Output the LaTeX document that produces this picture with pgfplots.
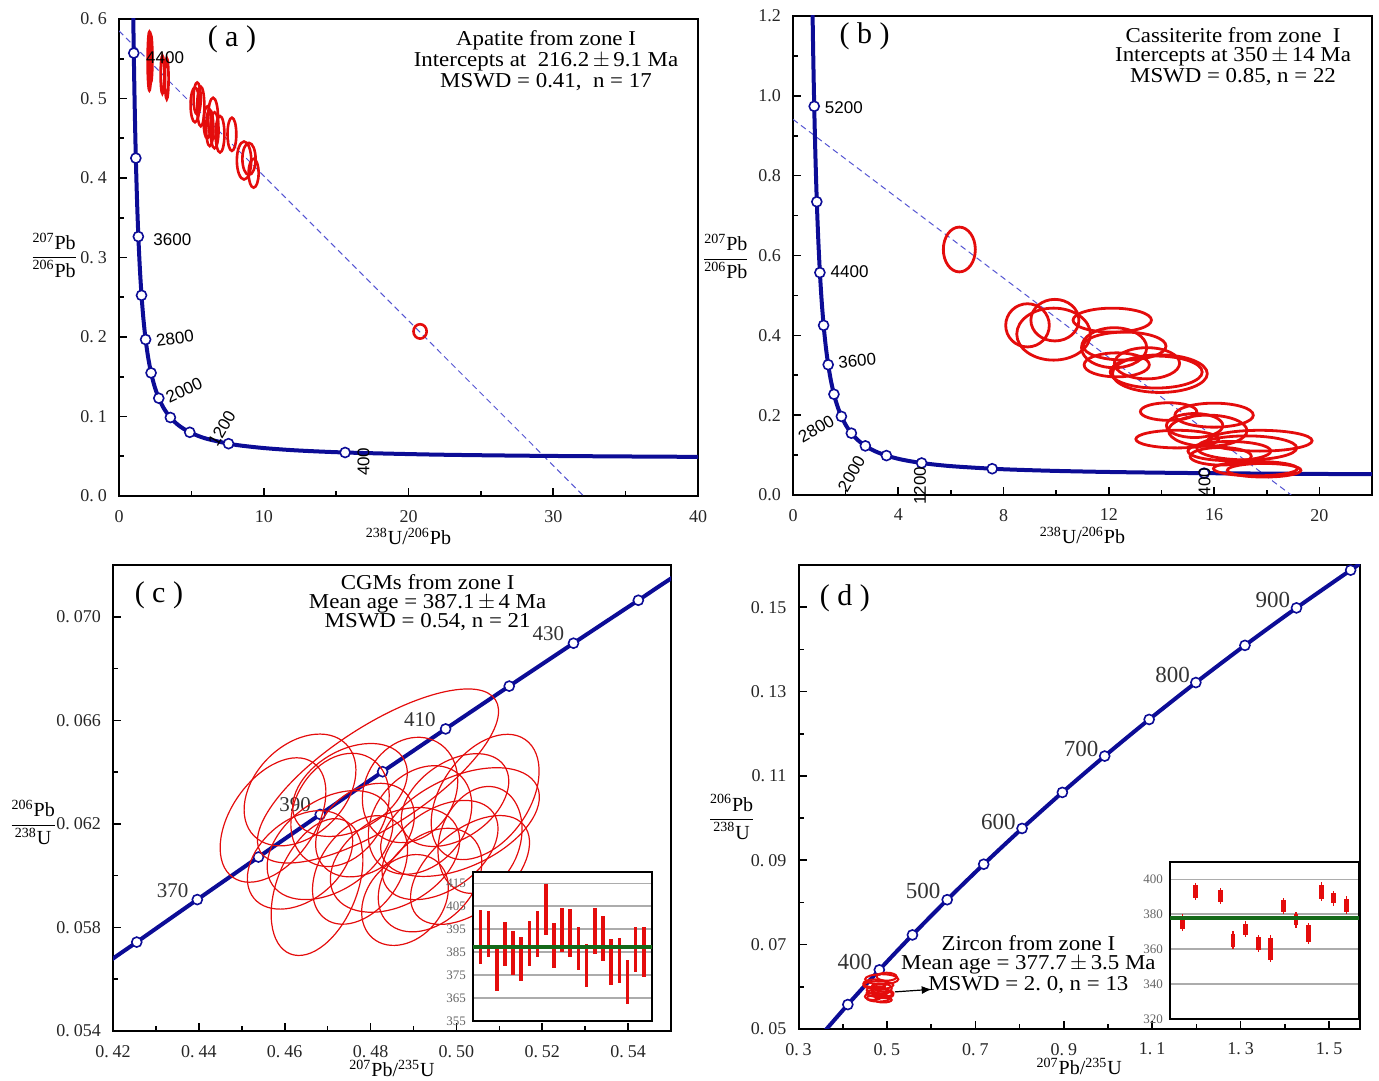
\documentclass[border=0pt]{standalone}
\usepackage{pgfplots}
\pgfplotsset{compat=1.18}
\usepackage{pgfplotstable}
\usepackage{amsmath}
\usepackage{fontspec}
\setmainfont{Liberation Serif}
\newfontfamily\arialf{Liberation Sans}
\newfontfamily\ttlf{Liberation Serif}[FakeStretch=1.08]
\usetikzlibrary{arrows.meta}

\definecolor{conc}{RGB}{12,12,150}
\definecolor{ered}{RGB}{228,12,12}
\definecolor{dgreen}{RGB}{20,105,25}
\definecolor{disc}{RGB}{85,85,210}
\def\dsp{\kern0.22em}
\newcommand{\tlines}[5]{\vbox{\baselineskip=#1\lineskiplimit=-\maxdimen\lineskip=0pt\halign{\hfil##\hfil\cr#2\cr#3\cr\noalign{\vskip#5}#4\cr}}}

\pgfdeclareplotmark{ell}{%
  \pgfmathsetmacro\ellTb{\ellT+90}%
  \pgfpathellipse{\pgfpointorigin}{\pgfpointpolar{\ellT}{\ellA pt}}{\pgfpointpolar{\ellTb}{\ellB pt}}%
  \pgfusepathqstroke}

\pgfplotsset{
  mainax/.style={scale only axis, anchor=south west, clip mode=individual,
    axis line style={line width=1pt}, tick align=inside,
    xtick pos=left, ytick pos=left, scaled ticks=false,
    major tick length=4pt, minor tick length=2.5pt,
    every tick/.append style={black, line width=0.8pt},
    tick label style={font=\fontsize{9}{10}\selectfont, black!85},
    xticklabel style={yshift=-3.5pt},
    yticklabel style={xshift=-2.5pt},
    /pgf/number format/assume math mode=true,
    every axis x label/.append style={font=\fontsize{10}{11}\selectfont, yshift=4pt},
    every axis y label/.style={anchor=center, font=\fontsize{10}{11}\selectfont}},
  ylabat/.style 2 args={every axis y label/.append style={at={(rel axis cs:#1,#2)}}},
  ellplot/.style={scatter, only marks, mark=ell, #1,
    scatter/use mapped color={draw=ered, fill=none},
    visualization depends on={\thisrow{a} \as \ellA},
    visualization depends on={\thisrow{b} \as \ellB},
    visualization depends on={\thisrow{t} \as \ellT}},
  inset/.style={scale only axis, anchor=south west, axis background/.style={fill=white},
    axis line style={line width=1.2pt}, xtick=\empty, ytick pos=left, major tick length=0pt,
    ymajorgrids, grid style={gray!65, line width=0.9pt},
    tick label style={font=\fontsize{6.5}{7}\selectfont, black!60},
    /pgf/number format/assume math mode=true},
  barsty/.style={draw=none, mark=none, error bars/.cd, y dir=both, y explicit, error mark=none,
    error bar style={draw=ered, line width=#1}},
  concm/.style={only marks, mark=*, mark size=2.5pt, mark options={fill=white, draw=conc, line width=0.8pt}},
}
\tikzset{ttl/.style={inner sep=1pt, font=\ttlf\fontsize{10.6}{12}\selectfont},
  agl/.style={inner sep=0pt, font=\arialf\fontsize{8.5}{9}\selectfont}}

% Tera-Wasserburg concordia
\pgfplotstableread{
t x y
100 63.97 0.04802
150 42.48 0.04905
200 31.735 0.05011
250 25.289 0.05120
300 20.992 0.05234
400 15.621 0.05470
500 12.399 0.05722
600 10.252 0.05991
700 8.7182 0.06276
800 7.568 0.06580
1000 5.9591 0.07250
1200 4.888 0.08013
1400 4.1225 0.08880
1600 3.5496 0.09871
1800 3.1044 0.11003
2000 2.7491 0.12300
2200 2.4586 0.13782
2400 2.2170 0.15484
2600 2.0129 0.17437
2800 1.8384 0.19682
3000 1.6874 0.22266
3200 1.5557 0.25242
3400 1.4398 0.28674
3600 1.3370 0.32634
3800 1.2453 0.37210
4000 1.1630 0.42501
4200 1.0888 0.48623
4400 1.0215 0.55714
4600 0.9604 0.63932
4800 0.9045 0.73463
5000 0.8533 0.84527
5200 0.8062 0.97376
5400 0.7628 1.12312
5600 0.7226 1.29690
}\twcurve

\pgfplotstableread{
x y
15.621 0.05470
7.568 0.06580
4.888 0.08013
3.5496 0.09871
2.7491 0.12300
2.2170 0.15484
1.8384 0.19682
1.5557 0.25242
1.3370 0.32634
1.1630 0.42501
1.0215 0.55714
}\twmarkA

\pgfplotstableread{
x y
15.621 0.05470
7.568 0.06580
4.888 0.08013
3.5496 0.09871
2.7491 0.12300
2.2170 0.15484
1.8384 0.19682
1.5557 0.25242
1.3370 0.32634
1.1630 0.42501
1.0215 0.55714
0.9045 0.73463
0.8062 0.97376
}\twmarkB

% Wetherill concordia
\pgfplotstableread{
t x y
300 0.34374 0.047637
350 0.41156 0.055795
360 0.42553 0.057434
370 0.43964 0.059076
380 0.45389 0.060719
390 0.46828 0.062366
400 0.48281 0.064016
410 0.49749 0.065668
420 0.51231 0.067322
430 0.52728 0.068979
440 0.54239 0.070638
450 0.55766 0.072300
500 0.63628 0.080650
550 0.71887 0.089064
600 0.80563 0.097544
650 0.89677 0.106090
700 0.99251 0.114702
750 1.09308 0.123381
800 1.19873 0.132129
850 1.30971 0.140944
900 1.42629 0.149828
950 1.54876 0.158781
970 1.59946 0.162382
}\wwcurve

\pgfplotstableread{
x y
0.42553 0.057434
0.43964 0.059076
0.45389 0.060719
0.46828 0.062366
0.48281 0.064016
0.49749 0.065668
0.51231 0.067322
0.52728 0.068979
0.54239 0.070638
}\wwmarkC

\pgfplotstableread{
x y
0.41156 0.055795
0.48281 0.064016
0.55766 0.072300
0.63628 0.080650
0.71887 0.089064
0.80563 0.097544
0.89677 0.106090
0.99251 0.114702
1.09308 0.123381
1.19873 0.132129
1.30971 0.140944
1.42629 0.149828
1.54876 0.158781
}\wwmarkD

% error ellipses: centre x y, semi-axes a b (pt), tilt t (deg)
\pgfplotstableread{
x y a b t
2.1 0.547 0.9 14.7 0
2.2 0.550 0.8 12 0
3.0 0.530 0.9 9.5 0
3.3 0.525 0.9 10.3 0
5.25 0.492 2.2 8.7 0
5.4 0.500 1.8 8 0
5.65 0.490 1.8 9.9 0
6.1 0.470 1.8 8 0
6.27 0.463 1.8 9.1 0
6.5 0.475 2.5 10.3 0
6.6 0.460 2.0 9 0
6.98 0.455 2.2 9.1 0
7.8 0.455 2.2 8.3 0
8.64 0.422 3.6 9.5 0
8.98 0.424 3.3 8.0 0
9.3 0.406 2.5 7.2 0
20.8 0.207 3.3 3.6 0
}\ellA

\pgfplotstableread{
x y a b t
6.32 0.615 8.0 11.2 0
8.91 0.425 10.9 10.8 0
9.95 0.438 12.0 10.4 0
9.9 0.403 18.4 13.0 0
12.13 0.438 19.6 6.0 0
12.2 0.369 16.3 10.0 0
12.6 0.373 20.7 7.0 0
12.3 0.326 16.3 6.0 0
13.45 0.330 16.3 7.8 0
13.94 0.304 23.7 9.4 0
13.8 0.308 23.0 8.0 0
14.27 0.209 14.1 4.4 0
16.0 0.200 19.6 6.0 0
15.26 0.174 14.1 6.0 0
15.76 0.161 19.6 7.8 0
14.6 0.140 20.7 4.4 0
17.74 0.136 26.1 5.2 0
17.24 0.118 25.0 6.0 0
16.58 0.110 20.7 4.8 0
17.9 0.062 18.4 3.4 0
17.57 0.066 21.0 3.6 0
16.25 0.097 15.3 4.4 0
}\ellB

\pgfplotstableread{
x y a b t
0.48174 0.06385 70 25 33
0.45728 0.06215 35 21 55
0.46753 0.05956 36 20 68
0.50670 0.06304 35 22 55
0.50085 0.06207 42.5 22.5 25
0.46357 0.06331 32.5 22.5 45
0.47289 0.06254 30 22.5 60
0.47056 0.06118 35 22.5 35
0.47871 0.06176 27.5 20 40
0.48570 0.06061 35 22.5 30
0.49153 0.06215 30 22.5 50
0.49619 0.06099 32.5 20 35
0.50318 0.06022 35 20 40
0.48920 0.06331 27.5 22.5 60
0.47755 0.06022 30 20 55
0.49386 0.05983 30 21 45
0.46357 0.06061 30 20 40
0.50551 0.06138 27.5 20 70
0.47522 0.06331 31 20 30
0.48803 0.05906 25 19 50
0.49968 0.06292 30 19 35
}\ellC

\pgfplotstableread{
x y a b t
0.4882 0.0618 8.3 2.5 0
0.4805 0.0604 7.5 2.0 0
0.4769 0.0592 5.0 2.0 0
0.4843 0.0585 6.7 2.0 0
0.4805 0.0573 5.8 1.7 0
0.4918 0.0581 5.0 1.7 0
0.4730 0.0608 5.8 2.0 0
0.4995 0.0624 5.0 2.0 0
0.4692 0.0577 4.2 1.7 0
0.4882 0.0596 5.0 2.5 0
0.4843 0.0588 4.2 1.7 0
0.4918 0.0569 4.2 1.3 0
0.4805 0.0600 3.3 1.7 0
}\ellD

% inset data: index, middle, half-range
\pgfplotstableread{
i m e
1 391.6 11.9
2 392.85 9.95
3 377.9 9.7
4 388.6 9.8
5 384.65 9.75
6 381.95 9.55
7 388.95 9.85
8 393.0 10.1
9 403.7 11.2
10 388.05 9.85
11 394.6 9.7
12 393.35 10.45
13 386.65 9.55
14 379.25 9.55
15 394.2 10.1
16 390.8 9.8
17 380.75 9.85
18 381.25 9.75
19 372.2 9.6
20 386.2 10.0
21 385.3 10.9
}\barC

\pgfplotstableread{
i m e eb
1 375.15 4.85 3.6
2 393.0 5.0 3.7
4 390.5 4.8 3.5
5 365.15 5.15 3.8
6 371.5 4.5 3.2
7 363.4 5.0 3.7
8 360.35 7.65 6.3
9 384.7 4.7 3.4
10 376.85 4.45 3.1
11 368.9 6.1 4.8
12 392.95 5.35 4.0
13 389.2 4.2 2.9
14 385.15 5.15 3.8
}\barD

\begin{document}
\begin{tikzpicture}
\path[use as bounding box] (0,0) rectangle (689.5pt,540pt);

% ---------------- (a)
\begin{axis}[mainax, at={(59.5pt,292pt)}, width=289.5pt, height=238.5pt,
  ylabat={-0.112}{0.505},
  xmin=0, xmax=40, ymin=0, ymax=0.6,
  xtick={0,10,20,30,40}, minor xtick={5,15,25,35},
  ytick={0,0.1,0.2,0.3,0.4,0.5,0.6}, minor ytick={0.05,0.15,0.25,0.35,0.45,0.55},
  yticklabels={0.\dsp0,0.\dsp1,0.\dsp2,0.\dsp3,0.\dsp4,0.\dsp5,0.\dsp6},
  xlabel={\textsuperscript{238}U/\textsuperscript{206}Pb},
  ylabel={$\dfrac{\text{\textsuperscript{207}Pb}}{\text{\textsuperscript{206}Pb}}$}]
\addplot[disc, line width=0.5pt, dash pattern=on 3pt off 2pt] coordinates {(0,0.585) (32.1,0)};
\addplot[conc, line width=2pt, smooth] table[x=x, y=y] {\twcurve};
\addplot[concm] table[x=x, y=y] {\twmarkA};
\addplot[ellplot={line width=1.3pt}] table[x=x, y=y] {\ellA};
\node[agl, anchor=west] at (axis cs:1.85,0.552) {4400};
\node[agl, anchor=west] at (axis cs:2.35,0.323) {3600};
\node[agl, anchor=west, rotate=8] at (axis cs:2.55,0.195) {2800};
\node[agl, rotate=25] at (axis cs:4.5,0.133) {2000};
\node[agl, rotate=60] at (axis cs:7.1,0.085) {1200};
\node[agl, rotate=90] at (axis cs:16.9,0.043) {400};
\node[font=\fontsize{15}{16}\selectfont] at (axis cs:7.8,0.575) {( a )};
\node[ttl] at (axis cs:29.5,0.548) {\tlines{10.5pt}{Apatite from zone I}{Intercepts at~~216.2\,$\pm$\,9.1 Ma}{MSWD = 0.41,~~n = 17}{0pt}};
\end{axis}

% ---------------- (b)
\begin{axis}[mainax, at={(396.5pt,292.5pt)}, width=289.5pt, height=239.5pt,
  ylabat={-0.116}{0.498},
  xmin=0, xmax=22, ymin=0, ymax=1.2,
  xtick={0,4,8,12,16,20}, minor xtick={2,6,10,14,18},
  ytick={0,0.2,0.4,0.6,0.8,1.0,1.2}, minor ytick={0.1,0.3,0.5,0.7,0.9,1.1},
  yticklabel style={/pgf/number format/.cd, fixed, fixed zerofill, precision=1},
  xlabel={\textsuperscript{238}U/\textsuperscript{206}Pb},
  ylabel={$\dfrac{\text{\textsuperscript{207}Pb}}{\text{\textsuperscript{206}Pb}}$}]
\addplot[disc, line width=0.5pt, dash pattern=on 3pt off 2pt] coordinates {(0,0.941) (18.93,0)};
\addplot[conc, line width=2pt, smooth] table[x=x, y=y] {\twcurve};
\addplot[concm] table[x=x, y=y] {\twmarkB};
\addplot[ellplot={line width=1.4pt}] table[x=x, y=y] {\ellB};
\node[agl] at (axis cs:1.93,0.971) {5200};
\node[agl] at (axis cs:2.15,0.559) {4400};
\node[agl, rotate=5] at (axis cs:2.44,0.336) {3600};
\node[agl, rotate=30] at (axis cs:0.88,0.166) {2800};
\node[agl, rotate=60] at (axis cs:2.22,0.053) {2000};
\node[agl, rotate=90] at (axis cs:4.83,0.023) {1200};
\node[agl, rotate=90] at (axis cs:15.64,0.032) {400};
\node[font=\fontsize{15}{16}\selectfont] at (axis cs:2.72,1.150) {( b )};
\node[ttl] at (axis cs:16.72,1.0975) {\tlines{9.4pt}{Cassiterite from zone~~I}{Intercepts at 350\,$\pm$\,14 Ma}{MSWD = 0.85, n = 22}{1.2pt}};
\end{axis}

% ---------------- (c)
\begin{axis}[mainax, at={(56.5pt,24.5pt)}, width=279pt, height=233pt,
  ylabat={-0.143}{0.448},
  xmin=0.42, xmax=0.55, ymin=0.054, ymax=0.072,
  xtick={0.42,0.44,0.46,0.48,0.50,0.52,0.54}, minor xtick={0.43,0.45,0.47,0.49,0.51,0.53},
  xticklabels={0.\dsp42,0.\dsp44,0.\dsp46,0.\dsp48,0.\dsp50,0.\dsp52,0.\dsp54},
  ytick={0.054,0.058,0.062,0.066,0.070}, minor ytick={0.056,0.060,0.064,0.068},
  yticklabels={0.\dsp054,0.\dsp058,0.\dsp062,0.\dsp066,0.\dsp070},
  xlabel style={yshift=1.5pt},
  xlabel={\textsuperscript{207}Pb/\textsuperscript{235}U},
  ylabel={$\dfrac{\text{\textsuperscript{206}Pb}}{\text{\textsuperscript{238}U}}$}]
\addplot[conc, line width=2pt, smooth] table[x=x, y=y] {\wwcurve};
\addplot[concm] table[x=x, y=y] {\wwmarkC};
\node[font=\fontsize{10.5}{11}\selectfont, black!80] at (axis cs:0.4339,0.05944) {370};
\node[font=\fontsize{10.5}{11}\selectfont, black!80] at (axis cs:0.4624,0.06274) {390};
\node[font=\fontsize{10.5}{11}\selectfont, black!80] at (axis cs:0.4915,0.06602) {410};
\node[font=\fontsize{10.5}{11}\selectfont, black!80] at (axis cs:0.5214,0.06936) {430};
\addplot[ellplot={line width=0.6pt}] table[x=x, y=y] {\ellC};
\node[font=\fontsize{15}{16}\selectfont] at (axis cs:0.4307,0.07084) {( c )};
\node[ttl] at (axis cs:0.4933,0.07053) {\tlines{9.3pt}{CGMs from zone I}{Mean age = 387.1\,$\pm$\,4 Ma}{MSWD = 0.54, n = 21}{0.5pt}};
\end{axis}

\begin{axis}[inset, at={(236.5pt,29.5pt)}, width=89.5pt, height=74.5pt,
  xmin=0.1, xmax=22, ymin=355, ymax=420, ytick={355,365,375,385,395,405,415}]
\addplot[barsty=1.8pt] table[x=i, y=m, y error=e] {\barC};
\addplot[dgreen, line width=2pt] coordinates {(0.1,387.1) (22,387.1)};
\end{axis}

% ---------------- (d)
\begin{axis}[mainax, at={(399.25pt,25.5pt)}, width=280.75pt, height=232pt,
  ylabat={-0.119}{0.457},
  xmin=0.3, xmax=1.57, ymin=0.05, ymax=0.16,
  xtick={0.3,0.5,0.7,0.9,1.1,1.3,1.5}, minor xtick={0.4,0.6,0.8,1.0,1.2,1.4},
  xticklabels={0.\dsp3,0.\dsp5,0.\dsp7,0.\dsp9,1.\dsp1,1.\dsp3,1.\dsp5},
  ytick={0.05,0.07,0.09,0.11,0.13,0.15}, minor ytick={0.06,0.08,0.10,0.12,0.14},
  yticklabels={0.\dsp05,0.\dsp07,0.\dsp09,0.\dsp11,0.\dsp13,0.\dsp15},
  xlabel style={yshift=1.5pt},
  xlabel={\textsuperscript{207}Pb/\textsuperscript{235}U},
  ylabel={$\dfrac{\text{\textsuperscript{206}Pb}}{\text{\textsuperscript{238}U}}$}]
\addplot[conc, line width=2pt, smooth] table[x=x, y=y] {\wwcurve};
\addplot[concm] table[x=x, y=y] {\wwmarkD};
\addplot[ellplot={line width=1pt}] table[x=x, y=y] {\ellD};
\node[font=\fontsize{11.5}{12}\selectfont, black!80] at (axis cs:0.4277,0.0660) {400};
\node[font=\fontsize{11.5}{12}\selectfont, black!80] at (axis cs:0.582,0.0828) {500};
\node[font=\fontsize{11.5}{12}\selectfont, black!80] at (axis cs:0.752,0.0991) {600};
\node[font=\fontsize{11.5}{12}\selectfont, black!80] at (axis cs:0.939,0.1163) {700};
\node[font=\fontsize{11.5}{12}\selectfont, black!80] at (axis cs:1.146,0.1339) {800};
\node[font=\fontsize{11.5}{12}\selectfont, black!80] at (axis cs:1.373,0.1518) {900};
\draw[-{Latex[length=5pt,width=4pt]}, line width=0.6pt] (axis cs:0.518,0.0588) -- (axis cs:0.6013,0.0594);
\node[font=\fontsize{15}{16}\selectfont] at (axis cs:0.4047,0.1522) {( d )};
\node[ttl] at (axis cs:0.82,0.0652) {\tlines{9.6pt}{Zircon from zone I}{Mean age = 377.7\,$\pm$\,3.5 Ma}{MSWD = 2.~0, n = 13}{0.8pt}};
\end{axis}

\begin{axis}[inset, at={(585pt,30.5pt)}, width=94.5pt, height=78.5pt,
  xmin=0, xmax=15, ymin=320, ymax=410, ytick={320,340,360,380,400}]
\addplot[barsty=0.6pt] table[x=i, y=m, y error=e] {\barD};
\addplot[barsty=2.4pt] table[x=i, y=m, y error=eb] {\barD};
\addplot[dgreen, line width=2pt] coordinates {(0,377.7) (15,377.7)};
\end{axis}
\end{tikzpicture}
\end{document}
